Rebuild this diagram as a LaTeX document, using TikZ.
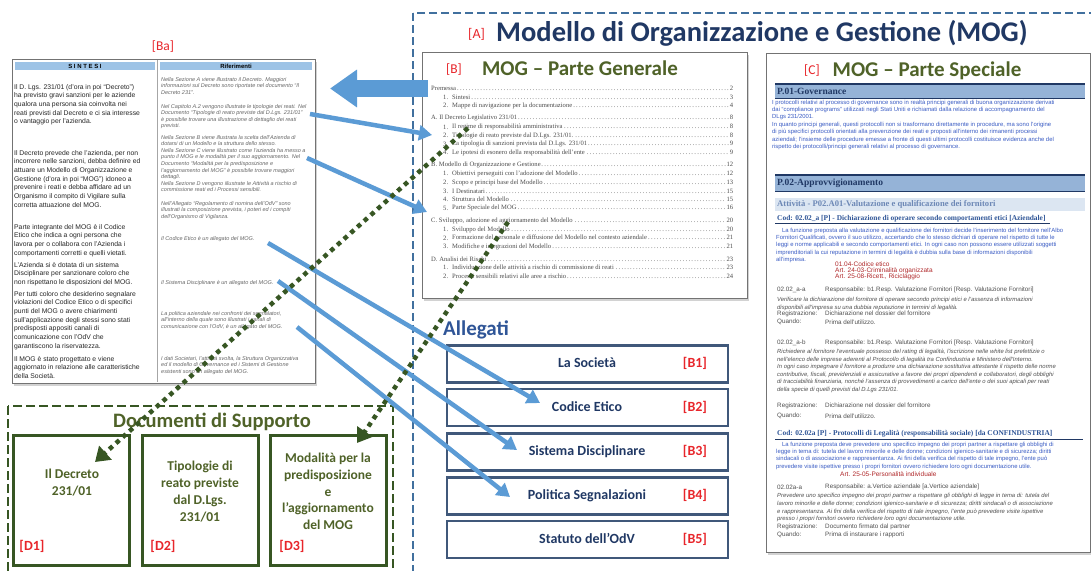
\documentclass[tikz,border=0pt]{standalone}
\usepackage{fontspec}
\setmainfont{Carlito}
\newfontfamily\arialf{Liberation Sans}
\newfontfamily\timesf{Liberation Serif}
\usetikzlibrary{arrows.meta,shadows}
\definecolor{navy}{HTML}{203864}
\definecolor{redlab}{HTML}{E8262B}
\definecolor{greentitle}{HTML}{4F6228}
\definecolor{greendark}{HTML}{375623}
\definecolor{arrowblue}{HTML}{5B9BD5}
\definecolor{dashblue}{HTML}{41709E}
\definecolor{boxedge}{HTML}{40587A}
\definecolor{hdrblue}{HTML}{9DC3E6}
\definecolor{parablue}{HTML}{3A5CC4}
\definecolor{barblue}{HTML}{95B3D7}
\definecolor{barlight}{HTML}{DCE6F2}
\definecolor{txtgray}{HTML}{505050}
\definecolor{darkred}{HTML}{B0282A}
\definecolor{allegblue}{HTML}{2F5597}
\newcommand\tocTop[3]{\node[toctext,anchor=west] at (431,#1) {\makebox[302pt][l]{#2\dotfill#3}};}
\newcommand\tocSub[4]{\node[toctext,anchor=west] at (443,#1) {#2};\node[toctext,anchor=west] at (452,#1) {\makebox[281pt][l]{#3\dotfill#4}};}
\begin{document}
\begin{tikzpicture}[x=1pt,y=-1pt,
  lbl/.style={text=redlab,font=\fontsize{13.5}{13.5}\selectfont,inner sep=0pt},
  docpage/.style={draw=black!55,fill=white,line width=0.8pt,drop shadow={opacity=0.35,shadow xshift=2pt,shadow yshift=-2.5pt},anchor=north west,inner sep=0pt},
  sint/.style={anchor=north west,inner sep=0pt,align=left,font=\arialf\fontsize{6.8}{8.7}\selectfont,text=black!85},
  rif/.style={anchor=north west,inner sep=0pt,align=left,font=\arialf\itshape\fontsize{5.5}{6.6}\selectfont,text=black!60},
  toctext/.style={inner sep=0pt,font=\timesf\fontsize{6.6}{7}\selectfont,text=black!70},
  ctext/.style={anchor=north west,inner sep=0pt,align=left,font=\arialf\fontsize{5.9}{7.4}\selectfont,text=parablue},
  cgray/.style={anchor=west,inner sep=0pt,font=\arialf\fontsize{6.3}{7}\selectfont,text=txtgray},
  citalic/.style={anchor=north west,inner sep=0pt,align=left,font=\arialf\itshape\fontsize{5.9}{7.4}\selectfont,text=txtgray},
  cred/.style={anchor=north west,inner sep=0pt,align=left,font=\arialf\fontsize{6.5}{6.3}\selectfont,text=darkred},
  chead/.style={anchor=west,inner sep=0pt,font=\timesf\bfseries\fontsize{9.5}{9.5}\selectfont,text=navy},
  allegbox/.style={draw=boxedge,line width=2.4pt,fill=white,minimum width=281pt,minimum height=37pt,inner sep=0pt},
  allegtext/.style={text=navy,font=\bfseries\fontsize{14}{14}\selectfont,text height=9.5pt,text depth=2.5pt,inner sep=0pt},
  dbox/.style={draw=greendark,line width=3pt,minimum width=116pt,minimum height=130pt,inner sep=0pt},
  dtext/.style={text=greentitle,font=\bfseries\fontsize{13.5}{16.8}\selectfont,align=center,inner sep=0pt},
  bluearrow/.style={draw=arrowblue,line width=4.5pt,-{Triangle[length=13pt,width=15pt]}},
  greenarrow/.style={draw=greendark,line width=4.5pt,dash pattern=on 4.5pt off 4.5pt,-{Triangle[length=14pt,width=18pt]}}
]
\useasboundingbox (0,0) rectangle (1091,570);
\clip (0,0) rectangle (1091,570);
\fill[white] (0,0) rectangle (1091,570);

% ---------- [A] frame ----------
\draw[dashblue,line width=2.7pt,dash pattern=on 8pt off 4pt] (413,13) rectangle (1110,600);
\node[lbl,anchor=base west,font=\fontsize{14}{14}\selectfont] (alab) at (468,38) {[A]};
\node[anchor=base west,inner sep=0pt,text=navy,font=\bfseries\fontsize{28.5}{29}\selectfont] (atitle) at (496,41) {Modello di Organizzazione e Gestione (MOG)};

% ---------- [Ba] document ----------
\node[lbl,anchor=base] (balab) at (163,50) {[Ba]};
\node[docpage,minimum width=303pt,minimum height=324pt] (ba) at (12,59) {};
\draw[black!35,line width=0.6pt] (157.5,60) -- (157.5,382);
\fill[hdrblue] (15,62) rectangle (155,70);
\fill[hdrblue] (160,62) rectangle (312,70);
\node[inner sep=0pt,font=\arialf\bfseries\fontsize{6}{6}\selectfont] (sintesi) at (85,66) {S I N T E S I};
\node[inner sep=0pt,font=\arialf\bfseries\fontsize{6}{6}\selectfont] (rifer) at (236,66) {Riferimenti};

\node[sint] (s1) at (14,84) {Il D. Lgs. 231/01 (d’ora in poi “Decreto”)\\ha previsto gravi sanzioni per le aziende\\qualora una persona sia coinvolta nei\\reati previsti dal Decreto e ci sia interesse\\o vantaggio per l’azienda.};
\node[sint] (s2) at (14,150) {Il Decreto prevede che l’azienda, per non\\incorrere nelle sanzioni, debba definire ed\\attuare un Modello di Organizzazione e\\Gestione (d’ora in poi “MOG”) idoneo a\\prevenire i reati e debba affidare ad un\\Organismo il compito di Vigilare sulla\\corretta attuazione del MOG.};
\node[sint] (s3) at (14,224) {Parte integrante del MOG è il Codice\\Etico che indica a ogni persona che\\lavora per o collabora con l’Azienda i\\comportamenti corretti e quelli vietati.};
\node[sint] (s4) at (14,262) {L’Azienda si è dotata di un sistema\\Disciplinare per sanzionare coloro che\\non rispettano le disposizioni del MOG.};
\node[sint] (s5) at (14,291) {Per tutti coloro che desiderino segnalare\\violazioni del Codice Etico o di specifici\\punti del MOG o avere chiarimenti\\sull’applicazione degli stessi sono stati\\predisposti appositi canali di\\comunicazione con l’OdV che\\garantiscono la riservatezza.};
\node[sint] (s6) at (14,356) {Il MOG è stato progettato e viene\\aggiornato in relazione alle caratteristiche\\della Società.};

\node[rif] (r1) at (161,77) {Nella Sezione A viene illustrato il Decreto. Maggiori\\informazioni sul Decreto sono riportate nel documento “Il\\Decreto 231”.};
\node[rif] (r2) at (161,104) {Nel Capitolo A.2 vengono illustrate le tipologie dei reati. Nel\\Documento “Tipologie di reato previste dal D.Lgs. 231/01”\\è possibile trovare una illustrazione di dettaglio dei reati\\previsti.};
\node[rif] (r3) at (161,135) {Nella Sezione B viene illustrata la scelta dell’Azienda di\\dotarsi di un Modello e la struttura dello stesso.\\Nella Sezione C viene illustrato come l’azienda ha messo a\\punto il MOG e le modalità per il suo aggiornamento. Nel\\Documento “Modalità per la predisposizione e\\l’aggiornamento del MOG” è possibile trovare maggiori\\dettagli.\\Nella Sezione D vengono illustrate le Attività a rischio di\\commissione reati ed i Processi sensibili.};
\node[rif] (r4) at (161,201) {Nell’Allegato “Regolamento di nomina dell’OdV” sono\\illustrati la composizione prevista, i poteri ed i compiti\\dell’Organismo di Vigilanza.};
\node[rif] (r5) at (161,236) {Il Codice Etico è un allegato del MOG.};
\node[rif] (r6) at (161,280) {Il Sistema Disciplinare è un allegato del MOG.};
\node[rif] (r7) at (161,311) {La politica aziendale nei confronti dei segnalatori,\\all’interno della quale sono illustrati i canali di\\comunicazione con l’OdV, è un allegato del MOG.};
\node[rif] (r8) at (161,356) {I dati Societari, l’attività svolta, la Struttura Organizzativa\\ed il modello di Governance ed i Sistemi di Gestione\\esistenti sono un allegato del MOG.};

% ---------- [B] Parte Generale ----------
\node[docpage,minimum width=325pt,minimum height=246pt] (bdoc) at (422,52) {};
\node[lbl,anchor=base west] (blab) at (446,73) {[B]};
\node[anchor=base,inner sep=0pt,text=greentitle,font=\bfseries\fontsize{21}{21}\selectfont] (btitle) at (580,75) {MOG – Parte Generale};
\tocTop{88}{Premessa}{2}
\tocSub{97}{1.}{Sintesi}{3}
\tocSub{105.5}{2.}{Mappe di navigazione per la documentazione}{4}
\tocTop{118}{A. Il Decreto Legislativo 231/01}{8}
\tocSub{127}{1.}{Il regime di responsabilità amministrativa}{8}
\tocSub{135.5}{2.}{Tipologie di reato previste dal D.Lgs. 231/01.}{8}
\tocSub{144}{3.}{La tipologia di sanzioni prevista dal D.Lgs. 231/01}{9}
\tocSub{152.5}{4.}{Le ipotesi di esonero della responsabilità dell’ente}{9}
\tocTop{165}{B. Modello di Organizzazione e Gestione}{12}
\tocSub{173.5}{1.}{Obiettivi perseguiti con l’adozione del Modello}{12}
\tocSub{182.5}{2.}{Scopo e principi base del Modello}{13}
\tocSub{191}{3.}{I Destinatari}{15}
\tocSub{199}{4.}{Struttura del Modello}{15}
\tocSub{208}{5.}{Parte Speciale del MOG}{16}
\tocTop{221}{C. Sviluppo, adozione ed aggiornamento del Modello}{20}
\tocSub{229.5}{1.}{Sviluppo del Modello}{20}
\tocSub{238}{2.}{Formazione del personale e diffusione del Modello nel contesto aziendale}{21}
\tocSub{246.5}{3.}{Modifiche e integrazioni del Modello}{21}
\tocTop{259}{D. Analisi dei Rischi}{23}
\tocSub{267.5}{1.}{Individuazione delle attività a rischio di commissione di reati}{23}
\tocSub{276.5}{2.}{Processi sensibili relativi alle aree a rischio}{24}

% ---------- [C] Parte Speciale ----------
\node[docpage,minimum width=324pt,minimum height=499pt] (cdoc) at (766,53) {};
\node[lbl,anchor=base west] (clab) at (804,74) {[C]};
\node[anchor=base,inner sep=0pt,text=greentitle,font=\bfseries\fontsize{21}{21}\selectfont] (ctitle) at (927,76) {MOG – Parte Speciale};
\fill[barblue] (775,84) rectangle (1085,98);
\draw[navy,line width=1.6pt] (775,84) -- (1085,84);
\draw[navy,line width=1pt] (775,98) -- (1085,98);
\node[chead] (p01) at (777,91) {P.01-Governance};
\node[ctext] (gov) at (772,99.6) {I protocolli relativi al processo di governance sono in realtà principi generali di buona organizzazione derivati\\dai “compliance programs” utilizzati negli Stati Uniti e richiamati dalla relazione di accompagnamento del\\DLgs 231/2001.\\In quanto principi generali, questi protocolli non si trasformano direttamente in procedure, ma sono l’origine\\di più specifici protocolli orientati alla prevenzione dei reati e proposti all’interno dei rimanenti processi\\aziendali; l’insieme delle procedure emesse a fronte di questi ultimi protocolli costituisce evidenza anche del\\rispetto dei protocolli/principi generali relativi al processo di governance.};
\fill[barblue] (775,175) rectangle (1085,191);
\draw[navy,line width=1.6pt] (775,175) -- (1085,175);
\draw[navy,line width=1pt] (775,191) -- (1085,191);
\node[chead] (p02) at (777,183) {P.02-Approvvigionamento};
\fill[barlight] (775,198) rectangle (1085,211);
\node[chead,text=allegblue!70,font=\timesf\bfseries\fontsize{8.6}{8.6}\selectfont] (att) at (777,204.5) {Attività - P02.A01-Valutazione e qualificazione dei fornitori};
\node[chead,text=allegblue,font=\timesf\bfseries\fontsize{7.4}{7.4}\selectfont] (cod1) at (777,218.5) {Cod: 02.02\_a [P] - Dichiarazione di operare secondo comportamenti etici [Aziendale]};
\draw[navy,line width=0.8pt] (775,223.5) -- (1050,223.5);
\node[ctext] (cp1) at (776,227.6) {\hspace{6pt}La funzione preposta alla valutazione e qualificazione dei fornitori decide l’inserimento del fornitore nell’Albo\\Fornitori Qualificati, ovvero il suo utilizzo, accertando che lo stesso dichiari di operare nel rispetto di tutte le\\leggi e norme applicabili e secondo comportamenti etici. In ogni caso non possono essere utilizzati soggetti\\imprenditoriali la cui reputazione in termini di legalità è dubbia sulla base di informazioni disponibili\\all’impresa.};
\node[cred] (cr1) at (835,261.4) {01.04-Codice etico\\Art. 24-03-Criminalità organizzata\\Art. 25-08-Ricett., Riciclaggio};
\node[cgray] (aa) at (777,290) {02.02\_a-a};
\node[cgray] (aar) at (825,290) {Responsabile: b1.Resp. Valutazione Fornitori [Resp. Valutazione Fornitori]};
\node[citalic] (aai) at (777,297.4) {Verificare la dichiarazione del fornitore di operare secondo principi etici e l’assenza di informazioni\\disponibili all’impresa su una dubbia reputazione in termini di legalità.};
\node[cgray] (aareg) at (777,313.5) {Registrazione:};
\node[cgray] (aareg2) at (825,313.5) {Dichiarazione nel dossier del fornitore};
\node[cgray] (aaq) at (777,322) {Quando:};
\node[cgray] (aaq2) at (825,322) {Prima dell’utilizzo.};
\node[cgray] (ab) at (777,343) {02.02\_a-b};
\node[cgray] (abr) at (825,343) {Responsabile: b1.Resp. Valutazione Fornitori [Resp. Valutazione Fornitori]};
\node[citalic,font=\arialf\itshape\fontsize{5.9}{7.5}\selectfont] (abi) at (777,349.4) {Richiedere al fornitore l’eventuale possesso del rating di legalità, l’iscrizione nelle white list prefettizie o\\nell’elenco delle imprese aderenti al Protocollo di legalità tra Confindustria e Ministero dell’Interno.\\In ogni caso impegnare il fornitore a produrre una dichiarazione sostitutiva attestante il rispetto delle norme\\contributive, fiscali, previdenziali e assicurative a favore dei propri dipendenti e collaboratori, degli obblighi\\di tracciabilità finanziaria, nonché l’assenza di provvedimenti a carico dell’ente o dei suoi apicali per reati\\della specie di quelli previsti dal D.Lgs 231/01.};
\node[cgray] (abreg) at (777,405.5) {Registrazione:};
\node[cgray] (abreg2) at (825,405.5) {Dichiarazione nel dossier del fornitore};
\node[cgray] (abq) at (777,416) {Quando:};
\node[cgray] (abq2) at (825,416) {Prima dell’utilizzo.};
\node[chead,text=allegblue,font=\timesf\bfseries\fontsize{7.4}{7.4}\selectfont] (cod2) at (777,433.5) {Cod: 02.02a [P] - Protocolli di Legalità (responsabilità sociale) [da CONFINDUSTRIA]};
\draw[navy,line width=1.4pt] (775,439.5) -- (1083,439.5);
\node[ctext] (cp2) at (776,441.6) {\hspace{6pt}La funzione preposta deve prevedere uno specifico impegno dei propri partner a rispettare gli obblighi di\\legge in tema di: tutela del lavoro minorile e delle donne; condizioni igienico-sanitarie e di sicurezza; diritti\\sindacali o di associazione e rappresentanza. Ai fini della verifica del rispetto di tale impegno, l’ente può\\prevedere visite ispettive presso i propri fornitori ovvero richiedere loro ogni documentazione utile.};
\node[cred] (cr2) at (840,471.4) {Art. 25-05-Personalità individuale};
\node[cgray] (ba2) at (777,487) {02.02a-a};
\node[cgray] (ba2r) at (825,487) {Responsabile: a.Vertice aziendale [a.Vertice aziendale]};
\node[citalic,font=\arialf\itshape\fontsize{5.9}{7.7}\selectfont] (ba2i) at (777,493.4) {Prevedere uno specifico impegno dei propri partner a rispettare gli obblighi di legge in tema di: tutela del\\lavoro minorile e delle donne; condizioni igienico-sanitarie e di sicurezza; diritti sindacali o di associazione\\e rappresentanza. Ai fini della verifica del rispetto di tale impegno, l’ente può prevedere visite ispettive\\presso i propri fornitori ovvero richiedere loro ogni documentazione utile.};
\node[cgray] (ba2reg) at (777,527) {Registrazione:};
\node[cgray] (ba2reg2) at (825,527) {Documento firmato dal partner};
\node[cgray] (ba2q) at (777,535) {Quando:};
\node[cgray] (ba2q2) at (825,535) {Prima di instaurare i rapporti};

% ---------- Allegati ----------
\node[anchor=base west,inner sep=0pt,text=allegblue,font=\bfseries\fontsize{21}{21}\selectfont] (alleg) at (443,335) {Allegati};
\node[allegbox] (b1) at (587.5,364) {};
\node[allegbox] (b2) at (587.5,407.5) {};
\node[allegbox] (b3) at (587.5,452) {};
\node[allegbox] (b4) at (587.5,496) {};
\node[allegbox] (b5) at (587.5,539.5) {};
\node[allegtext] (b1t) at (587,364) {La Società};
\node[allegtext] (b2t) at (587,407.5) {Codice Etico};
\node[allegtext] (b3t) at (587,452) {Sistema Disciplinare};
\node[allegtext] (b4t) at (587,496) {Politica Segnalazioni};
\node[allegtext] (b5t) at (587,539.5) {Statuto dell’OdV};
\node[allegtext,text=redlab] (b1l) at (695,364) {[B1]};
\node[allegtext,text=redlab] (b2l) at (695,407.5) {[B2]};
\node[allegtext,text=redlab] (b3l) at (695,452) {[B3]};
\node[allegtext,text=redlab] (b4l) at (695,496) {[B4]};
\node[allegtext,text=redlab] (b5l) at (695,539.5) {[B5]};

% ---------- Documenti di Supporto ----------
\draw[greendark,line width=2.8pt,dash pattern=on 9pt off 4pt] (8,406) rectangle (393,600);
\node[anchor=base,inner sep=0pt,text=greentitle,font=\bfseries\fontsize{20.5}{20.5}\selectfont] (dtitle) at (212,427) {Documenti di Supporto};
\node[dbox] (d1) at (71,500) {};
\node[dbox] (d2) at (200,500) {};
\node[dbox] (d3) at (328.5,500) {};
\node[dtext] (d1t) at (72,482.5) {Il Decreto\\231/01};
\node[dtext] (d2t) at (200,491.5) {Tipologie di\\reato previste\\dal D.Lgs.\\231/01};
\node[dtext] (d3t) at (328,491.5) {Modalità per la\\predisposizione\\e\\l’aggiornamento\\del MOG};
\node[allegtext,text=redlab] (d1l) at (32,547) {[D1]};
\node[allegtext,text=redlab] (d2l) at (163,547) {[D2]};
\node[allegtext,text=redlab] (d3l) at (292,547) {[D3]};

% ---------- connectors ----------
\coordinate (bigtail) at (428,88.5);
\coordinate (bigtip) at (330,88.5);
\draw[arrowblue,line width=17pt,-{Triangle[length=27pt,width=36pt]}] (bigtail) -- (bigtip);

\coordinate (r2s) at (310,114);
\coordinate (r2e) at (432,135);
\coordinate (r3s) at (307,158);
\coordinate (r3e) at (427,212);
\coordinate (r5s) at (268,243);
\coordinate (b2e) at (540,403);
\coordinate (r6s) at (278,281);
\coordinate (b3e) at (517,450);
\coordinate (r7s) at (297,327);
\coordinate (b4e) at (510,497);
\draw[bluearrow] (r2s) -- (r2e);
\draw[bluearrow] (r3s) -- (r3e);
\draw[bluearrow] (r5s) -- (b2e);
\draw[bluearrow] (r6s) -- (b3e);
\draw[bluearrow] (r7s) -- (b4e);

\coordinate (g1s) at (468,128);
\coordinate (g1e) at (95,462);
\coordinate (g2s) at (508,222);
\coordinate (g2e) at (357,443);
\draw[greenarrow] (g1s) -- (g1e);
\draw[greenarrow] (g2s) -- (g2e);
\end{tikzpicture}
\end{document}
